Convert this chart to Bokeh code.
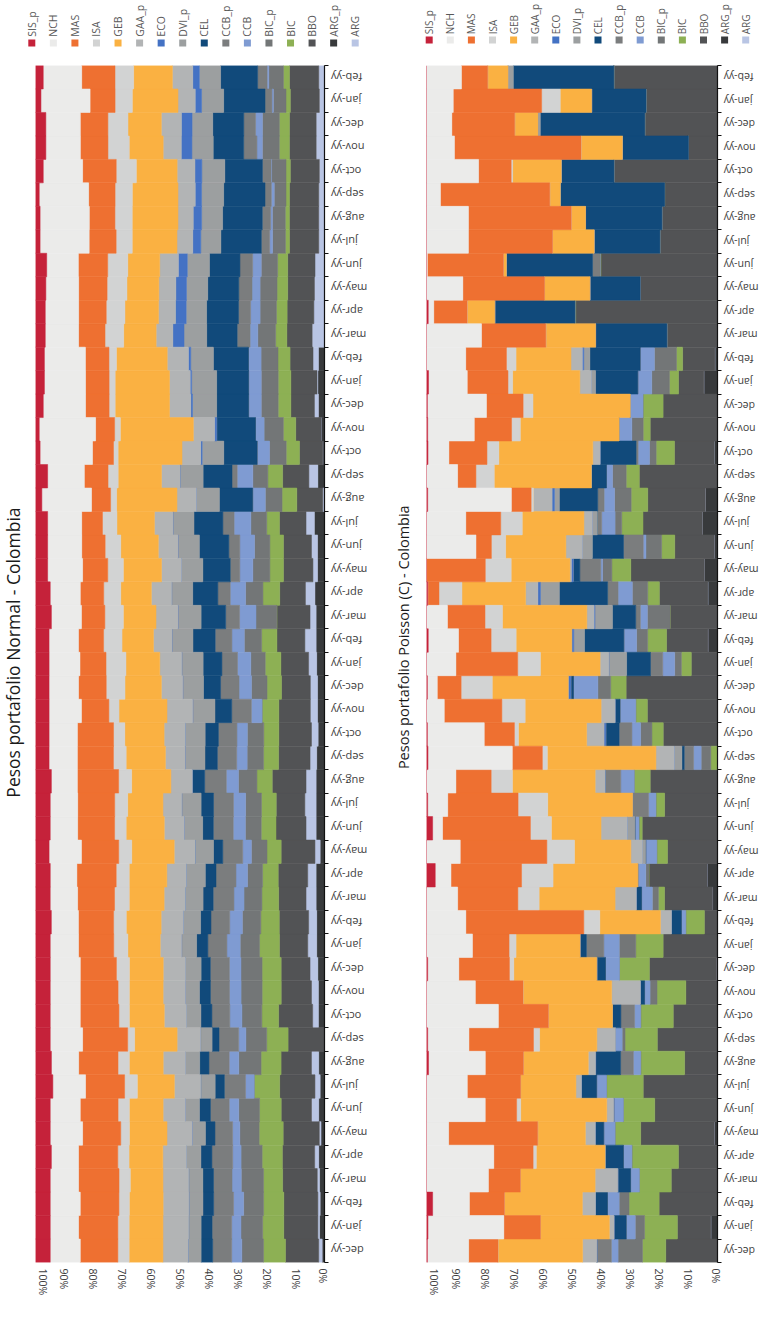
import math
import numpy as np
from bokeh.plotting import figure
from bokeh.layouts import row, column
from bokeh.models import Range1d, FixedTicker, ColumnDataSource, PrintfTickFormatter
from bokeh.core.properties import value
from bokeh.embed import file_html
from bokeh.resources import INLINE

# ---------------- data ----------------
periods = ["dec-yy", "jan-yy", "feb-yy", "mar-yy", "apr-yy", "may-yy", "jun-yy", "jul-yy", "aug-yy", "sep-yy",
           "oct-yy", "nov-yy", "dec-yy", "jan-yy", "feb-yy", "mar-yy", "apr-yy", "may-yy", "jun-yy", "jul-yy",
           "aug-yy", "sep-yy", "oct-yy", "nov-yy", "dec-yy", "jan-yy", "feb-yy", "mar-yy", "apr-yy", "may-yy",
           "jun-yy", "jul-yy", "aug-yy", "sep-yy", "oct-yy", "nov-yy", "dec-yy", "jan-yy", "feb-yy", "mar-yy",
           "apr-yy", "may-yy", "jun-yy", "jul-yy", "aug-yy", "sep-yy", "oct-yy", "nov-yy", "dec-yy", "jan-yy",
           "feb-yy"]

series = ["SIS_p", "NCH", "MAS", "ISA", "GEB", "GAA_p", "ECO", "DVI_p", "CEL", "CCB_p",
          "CCB", "BIC_p", "BIC", "BBO", "ARG_p", "ARG"]
series_colors = ["#C5223A", "#EBEBEA", "#EE7031", "#D2D3D3", "#FAB142", "#B2B4B5", "#4472C4", "#9C9FA0",
                 "#114A7B", "#7B7D7E", "#7F9BD2", "#737677", "#8DB054", "#525355", "#383A3C", "#B9C5E4"]
# stacking from the 0% side outwards
stack_order = ["ARG_p", "ARG", "BBO", "BIC", "BIC_p", "CCB", "CCB_p", "CEL", "DVI_p", "ECO",
               "GAA_p", "GEB", "ISA", "MAS", "NCH", "SIS_p"]

# Pesos portafolio Normal (percent, dec-yy first)
n_SIS_p = [5.1, 5.1, 5.1, 5.1, 5.5, 5.1, 5.1, 6.0, 5.5, 5.1, 5.1, 5.1, 5.1, 5.1, 5.5, 5.1, 5.1, 4.7, 5.1, 5.1,
           5.5, 4.7, 4.7, 4.7, 4.7, 4.7, 4.7, 5.5, 5.1, 4.2, 4.2, 4.2, 2.2, 4.2, 1.6, 1.3, 2.7, 3.1, 3.1, 3.4,
           3.4, 3.6, 3.9, 1.6, 1.6, 1.3, 2.7, 3.6, 3.6, 1.9, 2.7]
n_NCH = [10.4, 9.8, 10.4, 9.8, 9.4, 11.2, 10.4, 11.3, 9.4, 11.2, 10.4, 10.4, 10.4, 9.8, 9.4, 9.5, 9.2, 11.2, 9.5, 9.5,
         9.0, 9.8, 9.8, 11.2, 10.2, 10.7, 10.2, 10.4, 10.4, 12.1, 11.8, 11.8, 17.2, 12.7, 18.2, 19.6, 14.7, 14.3, 14.3, 11.6,
         11.6, 11.4, 11.0, 17.1, 17.1, 17.2, 13.7, 12.0, 12.0, 17.1, 13.4]
n_MAS = [13.0, 13.6, 13.4, 14.0, 13.6, 13.2, 13.1, 13.5, 13.6, 15.6, 13.4, 13.1, 12.5, 12.2, 12.2, 12.8, 13.6, 12.9, 12.8, 12.8,
         14.3, 12.5, 12.5, 9.5, 9.6, 9.0, 8.7, 8.1, 8.1, 8.7, 8.1, 7.2, 6.6, 8.2, 7.3, 6.6, 8.2, 8.2, 8.2, 9.2,
         9.6, 9.9, 10.2, 9.4, 8.9, 9.2, 11.7, 9.6, 9.6, 8.7, 11.6]
n_ISA = [3.9, 3.9, 3.6, 3.9, 3.9, 3.0, 3.9, 4.4, 3.9, 2.4, 3.6, 3.9, 4.5, 4.9, 4.4, 5.1, 4.5, 4.5, 4.0, 4.5,
         4.5, 4.4, 3.9, 3.5, 6.5, 6.9, 6.4, 6.4, 5.9, 5.4, 5.4, 5.0, 2.1, 3.5, 1.6, 2.0, 2.1, 2.1, 2.6, 6.5,
         6.5, 6.9, 7.0, 5.6, 6.0, 6.0, 7.0, 7.4, 7.0, 6.0, 6.5]
n_GEB = [11.7, 11.7, 11.7, 11.3, 11.7, 13.0, 11.7, 12.8, 11.7, 14.7, 12.1, 11.7, 11.7, 11.2, 12.1, 12.1, 13.0, 14.7, 13.2, 12.2,
         13.6, 13.6, 13.6, 16.6, 12.6, 11.7, 10.9, 11.3, 10.6, 13.2, 13.0, 13.0, 20.9, 15.0, 22.2, 25.4, 18.9, 18.9, 17.7, 11.3,
         11.7, 11.1, 11.1, 15.6, 15.9, 15.9, 14.2, 11.8, 11.6, 15.9, 13.5]
n_GAA_p = [8.7, 8.9, 8.9, 8.9, 8.2, 8.7, 7.7, 9.1, 7.7, 8.1, 7.7, 7.7, 7.7, 7.4, 7.7, 7.3, 6.7, 7.2, 6.9, 6.5,
           7.4, 6.8, 7.3, 8.9, 7.4, 7.6, 6.4, 7.6, 7.0, 6.9, 6.8, 6.4, 6.7, 6.4, 6.5, 7.4, 7.4, 7.2, 7.4, 5.8,
           5.9, 5.9, 6.5, 5.5, 5.3, 6.0, 6.2, 6.3, 7.0, 6.0, 7.1]
n_ECO = [0, 0, 0, 0, 0, 0, 0, 0, 0, 0, 0, 0, 0, 0, 0, 0, 0, 0, 0, 0,
         0, 0, 0, 0, 0, 0, 0, 0, 0, 0, 0, 0, 0, 0, 0.5, 0.7, 0.6, 0.5, 0.8, 3.9,
         3.7, 3.7, 3.1, 2.8, 2.9, 2.2, 2.4, 3.7, 3.7, 2.2, 2.3]
n_DVI_p = [4.5, 4.3, 4.9, 4.9, 5.0, 4.6, 4.9, 5.0, 4.9, 4.0, 5.0, 4.9, 5.4, 5.2, 6.0, 6.2, 6.6, 6.4, 6.4, 6.7,
           0, 6.9, 6.9, 7.7, 7.2, 7.4, 7.3, 8.0, 7.3, 7.4, 7.4, 7.3, 8.0, 8.0, 7.5, 0, 8.4, 8.7, 7.9, 7.9,
           7.1, 7.4, 7.7, 7.0, 7.3, 7.7, 8.0, 7.4, 7.2, 7.7, 7.4]
n_CEL = [4.0, 3.8, 3.7, 3.7, 3.8, 3.3, 3.8, 3.2, 3.2, 2.4, 3.8, 3.8, 3.2, 3.9, 3.6, 3.5, 3.7, 3.2, 3.7, 4.3,
         4.3, 4.3, 4.6, 5.8, 5.9, 6.5, 7.7, 8.5, 8.7, 9.5, 10.2, 10.0, 11.5, 10.0, 11.6, 13.5, 11.1, 11.1, 12.2, 10.6,
         11.1, 10.8, 10.6, 14.1, 13.8, 14.4, 13.1, 10.6, 10.8, 14.4, 12.9]
n_CCB_p = [6.6, 6.8, 6.9, 6.4, 7.2, 6.1, 6.5, 7.3, 7.0, 6.8, 6.2, 6.6, 6.6, 6.6, 6.5, 7.2, 6.9, 6.9, 6.9, 6.9,
           7.5, 6.7, 6.4, 6.8, 6.4, 5.4, 5.8, 4.8, 4.3, 3.3, 3.8, 3.9, 0, 1.8, 0, 0, 0, 0, 0, 4.5,
           4.2, 4.6, 4.4, 2.9, 2.9, 2.2, 3.0, 4.6, 4.1, 2.4, 3.3]
n_CCB = [3.5, 3.2, 3.5, 3.2, 2.9, 2.5, 3.3, 3.0, 3.3, 2.5, 4.2, 4.0, 4.0, 4.6, 4.4, 3.5, 4.0, 3.0, 4.2, 4.2,
         4.2, 3.6, 3.6, 3.7, 4.3, 4.6, 4.3, 5.7, 5.3, 4.5, 5.1, 5.8, 4.4, 5.4, 4.3, 3.0, 4.4, 4.4, 4.4, 2.7,
         3.3, 2.8, 3.0, 1.0, 0.6, 1.0, 0.2, 1.9, 2.4, 0.5, 0.6]
n_BIC_p = [7.5, 7.5, 6.9, 7.7, 7.3, 6.7, 7.2, 0, 7.7, 7.2, 6.9, 7.3, 7.3, 6.7, 6.4, 6.2, 5.2, 5.4, 5.5, 5.5,
           6.4, 5.7, 5.7, 0, 5.4, 5.0, 6.0, 7.2, 6.0, 5.9, 5.3, 5.5, 5.8, 5.2, 5.8, 6.7, 5.9, 5.9, 5.9, 6.2,
           5.7, 5.9, 5.7, 4.5, 4.5, 4.1, 5.0, 5.9, 5.9, 4.4, 5.1]
n_BIC = [7.6, 7.3, 7.0, 6.6, 7.0, 8.3, 7.5, 8.8, 6.9, 7.4, 5.8, 6.6, 6.6, 6.9, 6.4, 5.8, 5.4, 4.9, 5.1, 5.1,
         5.3, 5.2, 5.2, 5.8, 5.0, 5.4, 5.3, 0, 5.8, 4.7, 4.7, 4.4, 5.1, 5.1, 4.6, 4.3, 4.4, 4.4, 4.2, 3.9,
         3.7, 3.7, 3.5, 1.4, 1.4, 1.2, 1.5, 3.5, 3.5, 1.5, 2.1]
n_BBO = [11.5, 11.8, 11.8, 12.0, 11.2, 12.5, 10.5, 12.2, 10.5, 12.6, 11.8, 10.5, 10.0, 9.8, 10.2, 9.5, 10.2, 11.7, 10.4, 9.9,
         11.7, 10.9, 11.3, 10.9, 10.0, 9.6, 9.7, 11.5, 8.9, 10.2, 9.7, 9.2, 9.0, 9.1, 8.1, 8.8, 8.2, 9.1, 8.0, 8.8,
         9.3, 9.3, 9.5, 10.2, 10.2, 10.2, 10.1, 9.3, 9.3, 10.1, 10.2]
n_ARG_p = [0.8, 1.7, 1.5, 1.7, 2.0, 1.2, 2.0, 1.5, 2.0, 0, 2.1, 2.1, 2.3, 2.7, 2.7, 2.9, 2.9, 1.5, 2.9, 2.9,
           2.9, 2.7, 2.2, 2.4, 2.4, 2.7, 2.9, 2.9, 3.3, 2.4, 2.4, 3.5, 0, 2.3, 0.6, 1.2, 2.1, 2.3, 2.1, 0,
           0, 0, 0, 0, 0, 0, 0, 0, 0, 0, 0]
n_ARG = [1.2, 0.6, 0.8, 0.8, 1.4, 0.6, 2.5, 1.8, 2.5, 0, 2.0, 2.4, 2.7, 3.1, 2.8, 3.5, 2.9, 1.8, 3.5, 3.9,
         3.5, 2.3, 2.3, 2.5, 2.5, 2.8, 3.9, 2.1, 3.3, 1.6, 2.1, 2.9, 0.6, 3.1, 0, 0, 1.4, 0.3, 1.9, 4.3,
         3.7, 3.5, 3.3, 2.0, 2.0, 2.0, 1.8, 2.9, 2.9, 1.8, 2.0]

# Pesos portafolio Poisson (C) (percent, dec-yy first)
p_SIS_p = [0.3, 0.5, 2.1, 0, 0, 0, 0, 0, 0.7, 0.4, 0, 0, 0.4, 0, 0, 0, 3.0, 0, 2.1, 0.4,
           0, 0.5, 0.3, 0, 0.3, 0, 0.6, 0, 0.4, 0, 0, 0, 0.4, 0, 0.5, 0.4, 0.3, 0.7, 0, 0,
           0.6, 0, 0, 0, 0, 0, 0, 0, 0, 0, 0]
p_NCH = [14.2, 26.1, 12.6, 21.3, 23.1, 7.6, 20.2, 14.0, 19.5, 14.2, 24.7, 16.8, 10.7, 15.8, 13.5, 10.7, 5.4, 11.6, 3.4, 6.9,
         10.1, 28.9, 19.6, 6.1, 3.4, 10.1, 10.4, 7.2, 0, 0, 17.0, 13.5, 28.8, 10.7, 7.2, 16.0, 20.3, 13.3, 13.5, 18.9,
         1.9, 12.5, 0.3, 14.4, 14.4, 4.8, 17.9, 9.6, 8.7, 9.2, 12.0]
p_MAS = [10.1, 12.6, 12.0, 11.0, 13.5, 30.6, 10.8, 18.3, 13.1, 22.2, 17.2, 16.4, 17.4, 12.6, 40.5, 20.7, 24.2, 29.8, 30.1, 24.2,
         12.1, 10.3, 10.4, 19.8, 8.2, 21.2, 11.2, 12.9, 3.9, 20.2, 5.3, 12.0, 6.8, 6.3, 13.1, 12.8, 12.6, 14.0, 14.0, 22.1,
         11.5, 28.1, 26.1, 28.9, 35.3, 37.6, 11.2, 43.5, 21.6, 30.4, 9.0]
p_ISA = [0, 0, 0, 0, 1.1, 0, 1.4, 0, 0, 2.1, 0, 0, 1.5, 2.4, 5.5, 7.3, 10.8, 9.5, 7.2, 10.2,
         7.3, 1.7, 1.4, 8.0, 10.7, 7.8, 8.6, 6.0, 7.9, 8.9, 4.9, 7.4, 0.8, 6.3, 4.1, 3.0, 3.4, 1.6, 3.3, 0,
         0, 0, 0, 0, 0, 0, 0.5, 0, 0, 6.4, 0]
p_GEB = [29.1, 23.7, 26.7, 25.7, 23.6, 16.4, 29.6, 19.0, 22.3, 19.7, 22.0, 30.5, 28.5, 22.0, 20.8, 26.1, 29.1, 19.4, 17.0, 29.2,
         28.4, 37.2, 23.5, 26.1, 26.1, 20.5, 19.1, 29.0, 21.9, 20.2, 20.7, 21.2, 0, 33.4, 32.3, 33.9, 33.4, 23.1, 18.9, 17.1,
         9.5, 15.6, 1.0, 14.3, 4.9, 3.6, 16.7, 14.2, 8.0, 10.8, 7.0]
p_GAA_p = [4.9, 1.6, 4.5, 7.8, 0, 3.4, 2.4, 1.9, 2.5, 6.4, 0, 9.9, 0, 0, 3.8, 7.3, 0, 4.0, 9.0, 0,
           3.4, 6.3, 6.0, 4.8, 0, 3.0, 0, 2.5, 4.2, 0.5, 5.7, 2.9, 6.4, 0, 2.5, 0, 0, 4.0, 3.9, 0,
           0, 0, 0, 0, 0, 0, 0, 0, 0, 0, 0]
p_ECO = [0, 0, 0, 0, 0, 0, 0, 0, 0, 0, 0, 0, 0, 0, 0, 0, 0, 0, 0, 0,
         0, 0, 0.6, 0, 0.9, 0, 0.7, 0.3, 0.9, 0.6, 0, 0, 0.8, 0, 0, 0, 0, 0, 0.5, 0,
         0, 0, 0, 0, 0, 0, 0, 0, 0, 0, 0]
p_DVI_p = [0, 0, 0, 0, 0, 0, 0, 0, 0, 0, 0, 0, 0, 0, 0, 0, 0, 1.1, 2.6, 0,
           0, 2.6, 0, 0, 0, 6.1, 3.7, 6.0, 6.5, 0, 3.4, 1.7, 1.7, 0, 0, 0, 0, 1.4, 2.1, 0,
           0, 0, 0, 0, 0, 0, 0, 0, 0.8, 0, 1.8]
p_CEL = [0, 4.2, 4.1, 4.4, 6.3, 2.9, 0, 5.2, 8.6, 0, 2.9, 1.4, 3.0, 2.2, 3.4, 1.8, 0, 0, 0, 0,
         0, 0.8, 4.6, 1.7, 0.9, 8.2, 13.5, 8.0, 16.6, 2.3, 10.7, 0, 13.2, 5.2, 12.4, 0, 0, 14.5, 17.3, 24.5,
         27.6, 17.3, 29.6, 22.6, 26.2, 35.9, 18.1, 22.7, 35.9, 18.7, 34.5]
p_CCB_p = [5.0, 0, 0, 0, 0, 0, 0, 0, 4.4, 0, 4.7, 0, 0, 6.0, 0, 0, 0, 0, 0, 5.5,
           5.4, 3.2, 4.4, 0, 0, 4.2, 0, 1.6, 3.6, 7.2, 6.8, 1.5, 2.2, 0, 0.7, 0, 0, 0, 0, 0,
           0, 0, 2.6, 0, 0, 0, 0, 0, 0, 0, 0]
p_CCB = [2.3, 3.1, 4.0, 3.0, 2.9, 3.9, 3.3, 3.4, 2.5, 2.3, 2.1, 1.9, 4.8, 5.3, 1.5, 3.7, 2.7, 3.8, 1.4, 2.5,
         4.6, 2.6, 3.0, 5.4, 8.4, 4.1, 4.4, 2.4, 4.9, 0.6, 0.9, 4.6, 3.6, 2.1, 3.9, 4.4, 4.4, 4.8, 4.9, 0,
         0, 0, 0, 0, 0, 0, 0, 0, 0, 0, 0]
p_BIC_p = [8.4, 3.2, 3.4, 0, 0, 0, 0, 0, 0, 1.0, 0, 2.4, 0, 5.7, 0, 2.1, 1.1, 0, 0, 0,
           0, 3.3, 3.9, 0, 4.4, 2.3, 3.8, 7.8, 5.3, 3.2, 5.4, 2.3, 5.7, 4.7, 2.3, 3.9, 0, 6.1, 7.6, 0,
           0, 0, 0, 0, 0, 0, 0, 0, 0, 0, 0]
p_BIC = [8.0, 11.3, 10.3, 11.0, 16.0, 8.8, 10.8, 12.6, 15.1, 11.1, 11.2, 9.9, 10.3, 9.4, 6.4, 2.1, 0, 3.7, 1.1, 3.0,
         5.5, 2.3, 3.9, 4.0, 5.3, 3.4, 6.5, 0, 4.0, 6.5, 4.5, 7.3, 5.7, 4.5, 6.3, 2.4, 6.9, 3.1, 2.1, 0,
         0.3, 0, 0.3, 0, 0, 0, 0, 0, 0, 0, 0]
p_BBO = [17.8, 11.5, 20.0, 15.9, 13.4, 25.3, 21.6, 25.5, 11.3, 20.7, 15.2, 10.9, 23.1, 18.7, 4.5, 16.5, 19.9, 17.2, 25.8, 18.2,
         23.1, 0, 18.7, 24.1, 31.4, 9.0, 14.2, 16.3, 16.7, 25.3, 13.6, 20.4, 19.8, 26.9, 13.7, 23.1, 18.7, 8.7, 11.1, 17.4,
         48.8, 26.6, 40.0, 19.8, 19.1, 18.2, 35.6, 10.0, 25.0, 24.6, 35.6]
p_ARG_p = [0, 2.3, 0, 0, 0, 1.1, 0, 0, 0, 0, 0, 0, 0, 0, 0, 1.7, 3.6, 0, 0, 0,
           0, 0, 0, 0, 0, 0, 3.3, 0, 3.3, 4.5, 1.1, 5.2, 4.2, 0, 1.1, 0, 0, 4.7, 0.9, 0,
           0, 0, 0, 0, 0, 0, 0, 0, 0, 0, 0]
p_ARG = [0, 0, 0, 0, 0, 0, 0, 0, 0, 0, 0, 0, 0.3, 0, 0, 0, 0, 0, 0, 0,
         0, 0, 0, 0, 0, 0, 0, 0, 0, 0, 0, 0, 0, 0, 0, 0, 0, 0, 0, 0,
         0, 0, 0, 0, 0, 0, 0, 0, 0, 0, 0]

normal = {"SIS_p": n_SIS_p, "NCH": n_NCH, "MAS": n_MAS, "ISA": n_ISA, "GEB": n_GEB, "GAA_p": n_GAA_p,
          "ECO": n_ECO, "DVI_p": n_DVI_p, "CEL": n_CEL, "CCB_p": n_CCB_p, "CCB": n_CCB, "BIC_p": n_BIC_p,
          "BIC": n_BIC, "BBO": n_BBO, "ARG_p": n_ARG_p, "ARG": n_ARG}
poisson = {"SIS_p": p_SIS_p, "NCH": p_NCH, "MAS": p_MAS, "ISA": p_ISA, "GEB": p_GEB, "GAA_p": p_GAA_p,
           "ECO": p_ECO, "DVI_p": p_DVI_p, "CEL": p_CEL, "CCB_p": p_CCB_p, "CCB": p_CCB, "BIC_p": p_BIC_p,
           "BIC": p_BIC, "BBO": p_BBO, "ARG_p": p_ARG_p, "ARG": p_ARG}

color_of = dict(zip(series, series_colors))
FONT = "Open Sans"
MAIN_H = 1252
MB_BOTTOM = 42
NPER = len(periods)


def make_chart(vals, width, mb_top):
    arr = np.array([vals[s] for s in stack_order], dtype=float)
    arr = arr / arr.sum(axis=0) * 100.0          # 100 % stacked
    data = {s: arr[i] for i, s in enumerate(stack_order)}
    data["y"] = list(range(1, NPER + 1))
    src = ColumnDataSource(data)
    p = figure(width=width, height=MAIN_H, x_range=Range1d(100, 0), y_range=Range1d(0.5, NPER + 0.5),
               output_backend="svg", toolbar_location=None, y_axis_location="right",
               min_border_left=0, min_border_right=5, min_border_top=mb_top,
               min_border_bottom=MB_BOTTOM)
    cols = [color_of[s] for s in stack_order]
    p.hbar_stack(stack_order, y="y", height=1.0, source=src, fill_color=cols, line_color=cols,
                 line_width=0.5)
    p.grid.visible = False
    p.outline_line_color = None
    p.background_fill_color = "white"

    xa = p.xaxis[0]
    xa.ticker = FixedTicker(ticks=list(range(0, 101, 10)))
    xa.formatter = PrintfTickFormatter(format="%d%%")
    xa.axis_line_color = None
    xa.major_tick_line_color = None
    xa.minor_tick_line_color = None
    xa.major_tick_out = 0
    xa.major_tick_in = 0
    xa.major_label_orientation = "vertical"
    xa.major_label_standoff = 6
    xa.axis_label_standoff = 0
    xa.major_label_text_font = FONT
    xa.major_label_text_font_size = "10.5px"
    xa.major_label_text_color = "#404040"

    # right axis: line + boundary ticks between periods; labels drawn in the strip beside it
    ya = p.yaxis[0]
    ya.ticker = FixedTicker(ticks=[], minor_ticks=[i + 0.5 for i in range(0, NPER + 1)])
    ya.axis_line_color = "#111111"
    ya.axis_line_width = 1.2
    ya.major_tick_line_color = None
    ya.major_tick_out = 0
    ya.major_tick_in = 0
    ya.minor_tick_line_color = "#111111"
    ya.minor_tick_out = 4
    ya.minor_tick_in = 0
    ya.major_label_standoff = 0
    return p


def blank(width, height, y_range=None, mb_top=0, mb_bottom=0):
    f = figure(width=width, height=height, x_range=Range1d(0, width),
               y_range=y_range if y_range is not None else Range1d(0, height),
               output_backend="svg", toolbar_location=None, min_border_left=0, min_border_right=0,
               min_border_top=mb_top, min_border_bottom=mb_bottom,
               x_axis_location=None, y_axis_location=None)
    f.grid.visible = False
    f.outline_line_color = None
    return f


def period_labels(chart, width, mb_top, x, size):
    f = blank(width, MAIN_H, y_range=chart.y_range, mb_top=mb_top, mb_bottom=MB_BOTTOM)
    src = ColumnDataSource({"y": list(range(1, NPER + 1)), "t": periods, "x": [x] * NPER})
    f.text(x="x", y="y", text="t", source=src, angle=math.pi, text_align="right",
           text_baseline="middle", text_font=value(FONT), text_font_size=size, text_color="#404040")
    return f


def title_fig(width, text, x, y, size):
    f = blank(width, MAIN_H)
    f.text(x=[x], y=[y], text=[text], angle=math.pi / 2, text_align="center", text_baseline="middle",
           text_font=value(FONT), text_font_size=size, text_color="#1a1a1a")
    return f


# ---------------- legend strip ----------------
LEG_W, LEG_H = 759, 52
leg = blank(LEG_W, LEG_H)
nser = len(series)
for x0, step, ysq, ytxt, fsize in [(31.3, 21.56, 9.5, 15.8, "10.5px"), (428.7, 21.1, 12.5, 18.2, "10px")]:
    xs = [x0 + step * k for k in range(nser)]
    leg.rect(x=xs, y=[ysq] * nser, width=7, height=7, fill_color=series_colors, line_color=None)
    leg.text(x=xs, y=[ytxt] * nser, text=series, angle=math.pi / 2, text_align="left",
             text_baseline="middle", text_font=value(FONT), text_font_size=fsize, text_color="#595959")

# ---------------- panels ----------------
TOP_L, TOP_R = 13, 8
figL = make_chart(normal, width=294, mb_top=TOP_L)
labL = period_labels(figL, 58, TOP_L, 1.5, "11px")
figR = make_chart(poisson, width=296, mb_top=TOP_R)
labR = period_labels(figR, 37, TOP_R, 1.2, "10.5px")
titleL = title_fig(35, "Pesos portafolio Normal - Colombia", 12.5, 638, "17.5px")
titleR = title_fig(39, "Pesos portafolio Poisson (C) - Colombia", 16, 654, "14.5px")

layout = column(leg, row(titleL, figL, labL, titleR, figR, labR))
open("out.html", "w").write(file_html(layout, INLINE))
